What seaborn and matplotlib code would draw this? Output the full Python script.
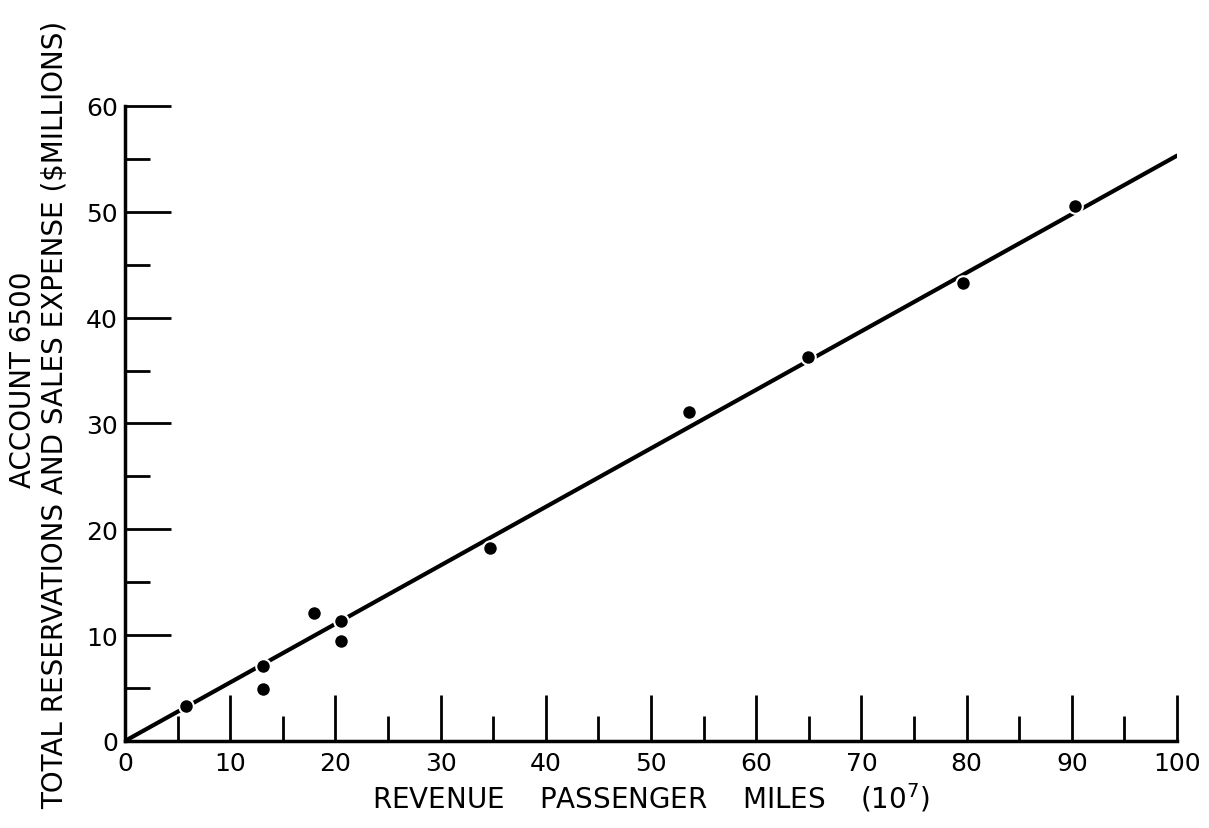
import numpy as np
import pandas as pd
import seaborn as sns
from matplotlib import pyplot as plt
from matplotlib.ticker import MultipleLocator

rpm = [5.8, 13.1, 13.1, 18.0, 20.5, 20.5, 34.7, 53.6, 64.9, 79.7, 90.3]
expense = [3.3, 7.1, 4.9, 12.1, 11.3, 9.4, 18.2, 31.1, 36.3, 43.3, 50.5]

# fitted line end points
fit_x = [0, 100]
fit_y = [0, 55.3]

x_ticks = [0, 10, 20, 30, 40, 50, 60, 70, 80, 90, 100]
y_ticks = [0, 10, 20, 30, 40, 50, 60]

df = pd.DataFrame({'rpm': rpm, 'expense': expense})
fit = pd.DataFrame({'rpm': fit_x, 'expense': fit_y})

sns.set_style('ticks')
plt.rcParams['font.family'] = ['DejaVu Sans']
plt.rcParams['text.color'] = 'black'
plt.rcParams['xtick.color'] = 'black'
plt.rcParams['ytick.color'] = 'black'
plt.rcParams['axes.labelcolor'] = 'black'

fig = plt.figure(figsize=(12.09, 8.29), dpi=100)
ax = fig.add_axes([0.1034, 0.105, 0.8701, 0.766])

sns.lineplot(data=fit, x='rpm', y='expense', color='black', linewidth=3, ax=ax)
sns.scatterplot(data=df, x='rpm', y='expense', color='black', s=110,
                edgecolor='white', linewidth=1.5, zorder=3, ax=ax)

ax.set_xlim(0, 100)
ax.set_ylim(0, 60)
ax.set_xticks(x_ticks)
ax.set_yticks(y_ticks)
ax.xaxis.set_minor_locator(MultipleLocator(5))
ax.yaxis.set_minor_locator(MultipleLocator(5))

ax.tick_params(axis='both', which='major', direction='in', length=33, width=2,
               labelsize=18, pad=5)
ax.tick_params(axis='both', which='minor', direction='in', length=18, width=2)
ax.tick_params(axis='x', which='major', pad=7)

for s in ['left', 'bottom']:
    ax.spines[s].set_linewidth(2.5)
    ax.spines[s].set_color('black')
sns.despine(ax=ax, top=True, right=True)

ax.set_xlabel(r'REVENUE    PASSENGER    MILES    (10$^{7}$)', fontsize=20, labelpad=4)
ax.set_ylabel('')

# two line y label placed by hand
fig.text(0.019, 0.542, 'ACCOUNT 6500', rotation=90, fontsize=20,
         ha='center', va='center')
fig.text(0.0455, 0.5, 'TOTAL RESERVATIONS AND SALES EXPENSE ($MILLIONS)',
         rotation=90, fontsize=20, ha='center', va='center')

fig.savefig('out.png', dpi=100, facecolor='white')
